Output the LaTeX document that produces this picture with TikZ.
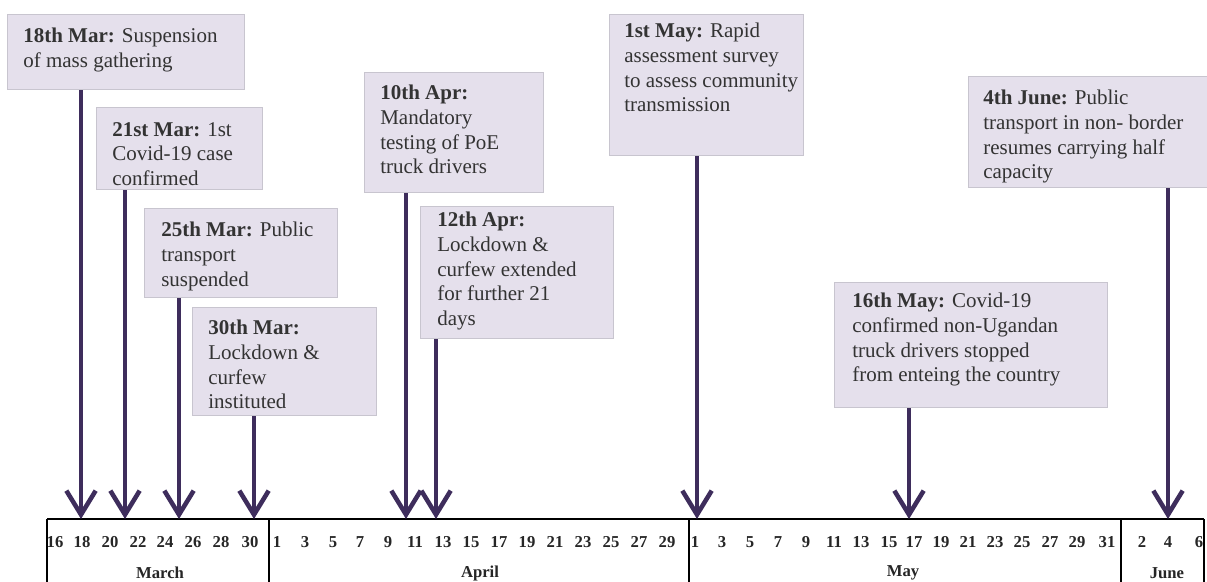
\documentclass[tikz,border=0pt]{standalone}
\usepackage{fontspec}
\setmainfont{Liberation Serif}
\usetikzlibrary{arrows.meta}
\definecolor{boxfill}{HTML}{E5E0EC}
\definecolor{boxline}{HTML}{C8C5CF}
\definecolor{arrowc}{HTML}{3E2D5C}
\definecolor{txt}{HTML}{333333}
\newcommand\evbox[5]{\node[evbox, minimum width={(#4-#2)*0.75pt}, minimum height={(#5-#3)*0.75pt}] (#1) at (#2,#3) {};}
\begin{document}
\begin{tikzpicture}[x=0.75pt,y=-0.75pt,
  evbox/.style={draw=boxline, fill=boxfill, line width=0.9pt, inner sep=0pt, anchor=north west},
  evtext/.style={anchor=north west, inner sep=0pt, align=left, text=txt,
     font=\fontsize{15.75}{18.5}\selectfont},
  evarrow/.style={draw=arrowc, line width=3.6pt,
     -{Straight Barb[length=18pt,width=22pt,line width=3.4pt]}},
  axisline/.style={draw=black, line width=2pt},
  daylabel/.style={inner sep=0pt, font=\fontsize{12.5}{14}\selectfont\bfseries, text=black!85},
  monthlabel/.style={inner sep=0pt, font=\fontsize{12.5}{14}\selectfont\bfseries, text=black!85}]
\useasboundingbox (0,0) rectangle (1207,582);
\fill[white] (0,0) rectangle (1207,582);

% axis points
\coordinate (d18m) at (81,519);
\coordinate (d21m) at (125,519);
\coordinate (d25m) at (179,519);
\coordinate (d30m) at (254,519);
\coordinate (d10a) at (406,519);
\coordinate (d12a) at (436,519);
\coordinate (d01y) at (697,519);
\coordinate (d16y) at (909,519);
\coordinate (d04j) at (1168,519);

% day labels
\foreach \x/\d in {55/16,82/18,110/20,138/22,165/24,193/26,221/28,250/30,
  277/1,305/3,333/5,360/7,388/9,415/11,443/13,471/15,499/17,527/19,555/21,583/23,611/25,639/27,667/29,
  695/1,722/3,750/5,778/7,806/9,834/11,861/13,889/15,914/17,941/19,968/21,995/23,1022/25,1050/27,1077/29,1107/31,
  1142/2,1168/4,1199/6}
  \node[daylabel] (n\x) at (\x,542) {\d};

\node[monthlabel] (mar) at (160,573) {March};
\node[monthlabel] (apr) at (480,573) {April};
\node[monthlabel] (may) at (903,573) {May};
\node[monthlabel] (jun) at (1167,573) {June};

% axis frame
\coordinate (axL) at (47,519);
\coordinate (axR) at (1204,519);
\draw[axisline] (axL) -- (axR);
\foreach \x in {47,269,689,1121,1204}
  \draw[axisline] (\x,519) -- (\x,590);

% boxes
\evbox{b1}{7}{14}{244}{89}
\evbox{b2}{96}{107}{262}{189}
\evbox{b3}{144}{208}{337}{297}
\evbox{b4}{192}{307}{376}{415}
\evbox{b5}{364}{72}{543}{192}
\evbox{b6}{420}{206}{613}{338}
\evbox{b7}{609}{14}{803}{155}
\evbox{b8}{968}{76}{1215}{187}
\evbox{b9}{834}{282}{1107}{407}

% texts
\node[evtext] (t1) at (23,28) {\textbf{18th Mar:} Suspension\\of mass gathering};
\node[evtext] (t2) at (112,122) {\textbf{21st Mar:} 1st\\Covid-19 case\\confirmed};
\node[evtext] (t3) at (161,222) {\textbf{25th Mar:} Public\\transport\\suspended};
\node[evtext] (t4) at (208,320) {\textbf{30th Mar:}\\Lockdown \&\\curfew\\instituted};
\node[evtext] (t5) at (380,85) {\textbf{10th Apr:}\\Mandatory\\testing of PoE\\truck drivers};
\node[evtext] (t6) at (437,212) {\textbf{12th Apr:}\\Lockdown \&\\curfew extended\\for further 21\\days};
\node[evtext] (t7) at (624,23) {\textbf{1st May:} Rapid\\assessment survey\\to assess community\\transmission};
\node[evtext] (t8) at (983,90) {\textbf{4th June:} Public\\transport in non- border\\resumes carrying half\\capacity};
\node[evtext] (t9) at (852,293) {\textbf{16th May:} Covid-19\\confirmed non-Ugandan\\truck drivers stopped\\from enteing the country};

% arrows
\draw[evarrow] (b1.south -| d18m) -- (d18m);
\draw[evarrow] (b2.south -| d21m) -- (d21m);
\draw[evarrow] (b3.south -| d25m) -- (d25m);
\draw[evarrow] (b4.south -| d30m) -- (d30m);
\draw[evarrow] (b5.south -| d10a) -- (d10a);
\draw[evarrow] (b6.south -| d12a) -- (d12a);
\draw[evarrow] (b7.south -| d01y) -- (d01y);
\draw[evarrow] (b9.south -| d16y) -- (d16y);
\draw[evarrow] (b8.south -| d04j) -- (d04j);
\end{tikzpicture}
\end{document}
